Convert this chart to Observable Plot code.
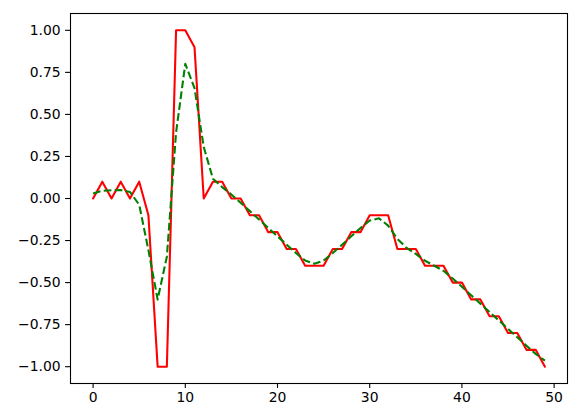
<!DOCTYPE html>
<html><head><meta charset="utf-8">
<script src="https://cdn.jsdelivr.net/npm/d3@7"></script>
<script src="https://cdn.jsdelivr.net/npm/@observablehq/plot@0.6"></script>
<style>body{margin:0;background:#fff}</style>
</head><body><div id="chart"></div>
<script>
const steps = [0,1,2,3,4,5,6,7,8,9,10,11,12,13,14,15,16,17,18,19,20,21,22,23,24,25,26,27,28,29,30,31,32,33,34,35,36,37,38,39,40,41,42,43,44,45,46,47,48,49];
const signal = [0,0.1,0,0.1,0,0.1,-0.1,-1,-1,1,1,0.9,0,0.1,0.1,0,0,-0.1,-0.1,-0.2,-0.2,-0.3,-0.3,-0.4,-0.4,-0.4,-0.3,-0.3,-0.2,-0.2,-0.1,-0.1,-0.1,-0.3,-0.3,-0.3,-0.4,-0.4,-0.4,-0.5,-0.5,-0.6,-0.6,-0.7,-0.7,-0.8,-0.8,-0.9,-0.9,-1.0];
const smoothed = [0.030,0.046,0.049,0.050,0.039,-0.037,-0.307,-0.601,-0.346,0.393,0.801,0.656,0.306,0.117,0.068,0.024,-0.025,-0.075,-0.125,-0.175,-0.225,-0.275,-0.324,-0.369,-0.388,-0.369,-0.324,-0.275,-0.225,-0.176,-0.131,-0.118,-0.161,-0.240,-0.294,-0.329,-0.370,-0.400,-0.430,-0.476,-0.525,-0.575,-0.625,-0.675,-0.725,-0.775,-0.825,-0.875,-0.924,-0.964];
const xTicks = [0,10,20,30,40,50];
const yTicks = [-1,-0.75,-0.5,-0.25,0,0.25,0.5,0.75,1];

const rows = steps.map((s, i) => ({step: s, signal: signal[i], smoothed: smoothed[i]}));

const chart = Plot.plot({
  width: 579, height: 413,
  marginLeft: 70, marginRight: 12, marginTop: 13, marginBottom: 30,
  style: {fontFamily: "DejaVu Sans", fontSize: "13.9px", background: "#fff", color: "#000"},
  x: {domain: [-2.45, 51.45]},
  y: {domain: [-1.1, 1.1]},
  marks: [
    Plot.line(rows, {x: "step", y: "signal", stroke: "red", strokeWidth: 2.08, strokeLinejoin: "round"}),
    Plot.line(rows, {x: "step", y: "smoothed", stroke: "green", strokeWidth: 2.08, strokeDasharray: "7.7,3.3", strokeLinecap: "butt", strokeLinejoin: "round"}),
    Plot.frame({stroke: "black", strokeWidth: 1.1}),
    Plot.axisX({ticks: xTicks, tickSize: 4.9, tickPadding: 4, label: null, fontSize: 13.9, strokeWidth: 1.1}),
    Plot.axisY({ticks: yTicks, tickSize: 4.9, tickPadding: 4.9, label: null, tickFormat: d3.format(".2f"), fontSize: 13.9, strokeWidth: 1.1})
  ]
});
document.getElementById("chart").appendChild(chart);
</script>
</body></html>
